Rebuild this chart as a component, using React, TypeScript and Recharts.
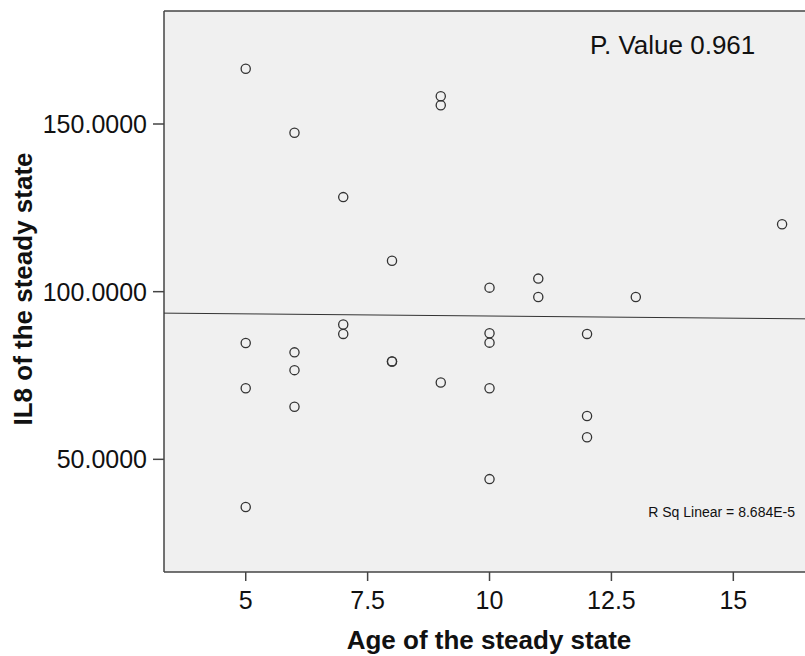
import {
  ScatterChart,
  Scatter,
  XAxis,
  YAxis,
  CartesianGrid,
  ReferenceLine,
  Customized,
} from 'recharts';

// age (x) of each case
const ages = [
  5, 5, 5, 5,
  6, 6, 6, 6,
  7, 7, 7,
  8, 8, 8,
  9, 9, 9,
  10, 10, 10, 10, 10,
  11, 11,
  12, 12, 12,
  13,
  16,
];

// IL8 values (y) in the same order
const il8 = [
  166.5, 84.7, 71.2, 35.8,
  147.4, 81.9, 76.6, 65.7,
  128.2, 90.2, 87.4,
  109.2, 79.2, 79.2,
  158.3, 155.6, 72.9,
  101.2, 87.6, 84.8, 71.2, 44.1,
  103.9, 98.4,
  87.4, 62.9, 56.6,
  98.4,
  120.1,
];

// linear fit line, ends
const fitX = [3.324, 16.47];
const fitY = [93.6, 91.9];

const xTicks = [5, 7.5, 10, 12.5, 15];
const yTicks = [50, 100, 150];
const xDomain = [3.324, 16.47];
const yDomain = [16.4, 183.7];

const points = ages.map((a, i) => ({ x: a, y: il8[i] }));
const fitLine = fitX.map((x, i) => ({ x, y: fitY[i] }));

const FONT = '"Liberation Sans", Arial, sans-serif';
const AXIS = '#444';

const OpenCircle = (props: any) => (
  <circle cx={props.cx} cy={props.cy} r={4.6} fill="none" stroke="#333" strokeWidth={1.3} />
);

const Nothing = () => <g />;

const Texts = () => (
  <g fontFamily={FONT} fill="#111">
    <text x={590} y={54} fontSize={26}>P. Value 0.961</text>
    <text x={795} y={517} fontSize={14} textAnchor="end">R Sq Linear = 8.684E-5</text>
    <text x={489} y={649} fontSize={26} fontWeight="bold" textAnchor="middle">
      Age of the steady state
    </text>
    <text
      x={32}
      y={289}
      fontSize={26}
      fontWeight="bold"
      textAnchor="middle"
      transform="rotate(-90 32 289)"
    >
      IL8 of the steady state
    </text>
  </g>
);

export default function App() {
  return (
    <div style={{ position: 'absolute', left: 0, top: 0, background: '#fff' }}>
      <ScatterChart width={805} height={656} margin={{ top: 11, right: 0, left: 0, bottom: 0 }}>
        <CartesianGrid fill="#f0f0f0" horizontal={false} vertical={false} />
        <XAxis
          type="number"
          dataKey="x"
          domain={xDomain}
          ticks={xTicks}
          allowDataOverflow
          height={84}
          tickSize={9}
          tickMargin={10}
          axisLine={{ stroke: AXIS, strokeWidth: 1.5 }}
          tickLine={{ stroke: AXIS, strokeWidth: 1.5 }}
          tick={{ fontSize: 25, fill: '#111', fontFamily: FONT }}
        />
        <YAxis
          type="number"
          dataKey="y"
          domain={yDomain}
          ticks={yTicks}
          allowDataOverflow
          width={164}
          tickSize={11}
          tickMargin={6}
          tickFormatter={(v: number) => v.toFixed(4)}
          axisLine={{ stroke: AXIS, strokeWidth: 1.5 }}
          tickLine={{ stroke: AXIS, strokeWidth: 1.5 }}
          tick={{ fontSize: 25, fill: '#111', fontFamily: FONT }}
        />
        <ReferenceLine y={yDomain[1]} stroke={AXIS} strokeWidth={1.5} ifOverflow="visible" />
        <Scatter
          data={fitLine}
          line={{ stroke: '#333', strokeWidth: 1 }}
          shape={Nothing}
          isAnimationActive={false}
        />
        <Scatter data={points} shape={OpenCircle} isAnimationActive={false} />
        <Customized component={Texts} />
      </ScatterChart>
    </div>
  );
}
